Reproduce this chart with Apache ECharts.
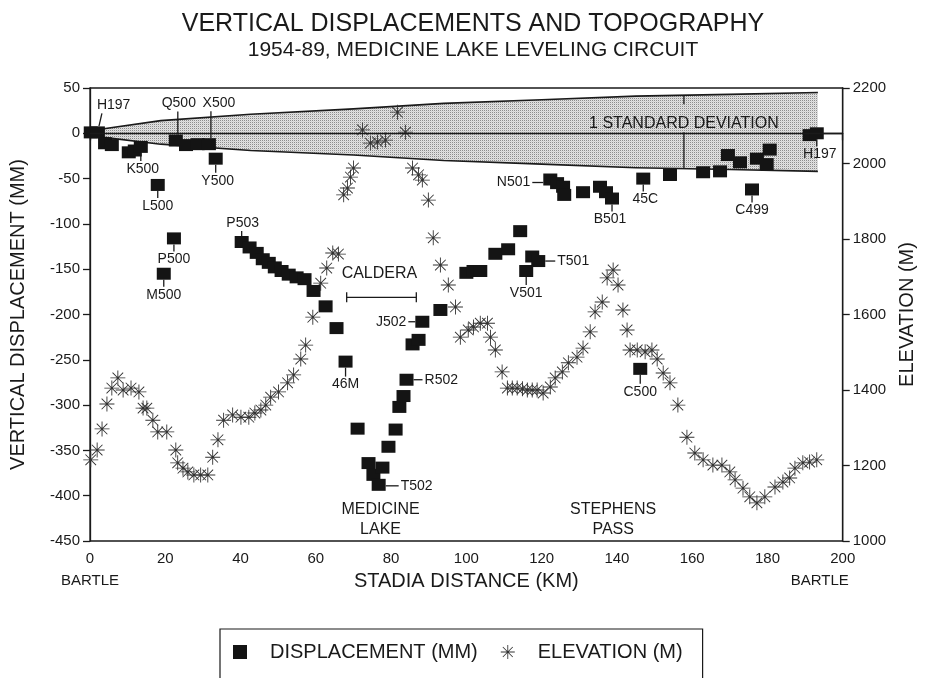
<!DOCTYPE html>
<html><head><meta charset="utf-8">
<script src="https://cdn.jsdelivr.net/npm/echarts@6/dist/echarts.min.js"></script>
<style>html,body{margin:0;padding:0;background:#fff}#c{width:925px;height:678px}</style>
</head><body><div id="c"></div>
<script>
// ---------------- DATA ----------------
const dispKm = [0.2,2.1,4.0,5.8,10.3,11.9,13.5,18.0,19.6,22.3,
  22.8,25.5,28.6,31.6,33.4,40.3,42.4,44.3,45.9,47.5,
  49.1,50.9,52.8,54.9,57.0,59.4,62.6,65.5,67.9,71.1,
  74.0,75.3,76.7,77.7,79.3,81.2,82.2,83.3,84.1,85.7,
  87.3,88.3,93.1,100.0,101.9,103.7,107.7,111.1,114.3,115.9,
  117.5,119.1,122.3,124.1,125.7,126.0,131.0,135.5,137.1,138.7,
  146.2,147.0,154.1,162.9,167.4,169.5,172.7,175.9,177.2,179.8,
  180.6,191.2,193.1];
const dispMm = [1,1,-11,-13,-21,-19,-15,-57,-155,-116,
  -8,-13,-12,-12,-28,-120,-126,-132,-139,-143,
  -148,-152,-156,-159,-161,-174,-191,-215,-252,-326,
  -364,-377,-388,-369,-346,-327,-302,-290,-272,-233,
  -228,-208,-195,-154,-152,-152,-133,-128,-108,-152,
  -136,-141,-51,-55,-59,-68,-65,-59,-65,-72,
  -260,-50,-46,-43,-42,-24,-32,-62,-28,-34,
  -18,-2,0];
const dispLabel = ['','H197','','','','','K500','L500','M500','P500',
  'Q500','','','X500','Y500','P503','','','','',
  '','','','','','','','','46M','',
  '','','T502','','','','','','R502','',
  '','J502','','','','','','','','V501',
  '','T501','N501','','','','','','','B501',
  'C500','45C','','','','','','C499','','',
  '','','H197'];

const elevKm = [0.2,1.9,3.2,4.5,5.8,7.4,8.8,10.9,13.0,14.1,
  15.1,16.7,18.0,20.4,22.8,23.3,24.7,26.0,27.6,29.4,
  31.3,32.6,34.0,35.5,37.9,40.1,42.2,43.8,45.4,46.7,
  48.0,50.1,52.5,54.1,56.0,57.3,59.2,61.3,62.9,64.5,
  66.0,67.4,68.4,69.2,70.0,72.4,74.5,76.4,78.5,81.7,
  83.8,85.7,87.3,88.3,89.9,91.2,93.1,95.2,97.1,98.4,
  100.5,101.9,103.7,105.6,106.4,107.7,109.5,110.9,112.2,113.5,
  114.9,116.2,117.5,118.8,120.4,122.3,123.6,125.5,127.1,129.4,
  131.0,132.9,134.2,136.1,137.4,139.0,140.3,141.6,142.7,143.5,
  145.4,147.5,149.3,150.7,152.3,154.1,156.2,158.6,160.7,162.9,
  165.5,167.9,170.0,171.4,173.5,175.3,177.2,179.3,182.0,184.1,
  185.9,187.3,189.4,191.2,193.1];
const elevM = [1215,1241,1297,1363,1405,1432,1400,1405,1395,1352,
  1352,1320,1289,1289,1241,1207,1193,1183,1175,1175,
  1175,1222,1268,1320,1334,1328,1328,1339,1347,1360,
  1381,1395,1419,1440,1482,1519,1593,1683,1723,1763,
  1760,1917,1935,1964,1988,2089,2054,2057,2062,2136,
  2083,1988,1970,1956,1903,1803,1731,1678,1620,1540,
  1559,1567,1577,1577,1540,1506,1448,1405,1405,1405,
  1403,1400,1400,1400,1392,1408,1432,1448,1472,1487,
  1511,1554,1607,1633,1697,1718,1678,1612,1559,1506,
  1506,1501,1506,1482,1445,1419,1360,1275,1233,1215,
  1201,1201,1183,1162,1140,1117,1101,1117,1143,1156,
  1167,1193,1207,1209,1215];

// one standard deviation envelope (mm)
const bandKm    = [0, 3.7, 18.8, 42.7, 70, 94, 120, 145, 170, 193.4];
const bandUpper = [0, 5, 14, 21, 27, 33, 37, 41, 43, 45];
const bandLower = [0, -4.5, -12, -19, -24, -30, -34, -38, -40, -42];

const xTickStep = 20, yLeftStep = 50, yRightStep = 200;

// annotation anchors (data coordinates)
const calderaSpan = [68.2, 86.7], calderaLevel = -181, calderaText = [76.9, -155];
const places = [
  {lines: ['MEDICINE', 'LAKE'], km: 77.2, mm: -426},
  {lines: ['STEPHENS', 'PASS'], km: 139.0, mm: -426}
];
const sdMarkKm = 157.8, sdTextMm = 11;

// ---------------- STYLE ----------------
const FONT = '"Liberation Sans", Arial, Helvetica, sans-serif';
const INK = '#1a1a1a';
const STAR = 'path://M47 0H53V100H47Z M0 47H100V53H0Z M16.7 12.5L87.5 83.3L83.3 87.5L12.5 16.7Z M83.3 12.5L87.5 16.7L16.7 87.5L12.5 83.3Z';

const LABEL_LAYOUT = {
  H197start: {dir: 'diag'},
  K500: {dir: 'down', len: 8, tx: 2},
  L500: {dir: 'down', len: 7},
  M500: {dir: 'down', len: 7},
  P500: {dir: 'down', len: 7},
  Q500: {dir: 'up', len: 23, lx: 2, tx: 3},
  X500: {dir: 'up', len: 27, lx: 2, tx: 10},
  Y500: {dir: 'down', len: 8, tx: 2},
  P503: {dir: 'up', len: 5, tx: 1},
  '46M': {dir: 'down', len: 9},
  T502: {dir: 'right', len: 13, ty: 1},
  R502: {dir: 'right', len: 9},
  J502: {dir: 'left', len: 7},
  V501: {dir: 'down', len: 8},
  T501: {dir: 'right', len: 10},
  N501: {dir: 'left', len: 11, ty: 3},
  B501: {dir: 'down', len: 7, tx: -2},
  '45C': {dir: 'down', len: 7, tx: 2},
  C499: {dir: 'down', len: 7},
  C500: {dir: 'down', len: 9},
  H197: {dir: 'down', len: 7, tx: 3}
};

// stipple pattern for the deviation band
const pc = document.createElement('canvas'); pc.width = 2; pc.height = 2;
const pg = pc.getContext('2d');
pg.fillStyle = '#e2e2e2'; pg.fillRect(0, 0, 2, 2);
pg.fillStyle = '#8c8c8c'; pg.fillRect(0, 0, 1, 1);
pg.fillStyle = '#d2d2d2'; pg.fillRect(1, 1, 1, 1);
const STIPPLE = {image: pc, repeat: 'repeat'};

function interp(xs, ys, x) {
  for (let i = 1; i < xs.length; i++) {
    if (x <= xs[i]) { const t = (x - xs[i-1]) / (xs[i] - xs[i-1]); return ys[i-1] + t * (ys[i] - ys[i-1]); }
  }
  return ys[ys.length - 1];
}

function bandRender(params, api) {
  if (params.dataIndex !== 0) return null;
  const up = bandKm.map((k, i) => api.coord([k, bandUpper[i]]));
  const lo = bandKm.map((k, i) => api.coord([k, bandLower[i]]));
  return {type: 'group', children: [
    {type: 'polygon', shape: {points: up.concat(lo.slice().reverse())}, style: {fill: STIPPLE}},
    {type: 'polyline', shape: {points: up}, style: {stroke: INK, lineWidth: 1.6, fill: null}},
    {type: 'polyline', shape: {points: lo}, style: {stroke: INK, lineWidth: 1.6, fill: null}}
  ]};
}

function annotRender(params, api) {
  if (params.dataIndex !== 0) return null;
  const ch = [];
  const line = (x1, y1, x2, y2) => ch.push({type: 'line', shape: {x1, y1, x2, y2}, style: {stroke: INK, lineWidth: 1.3}});
  const text = (x, y, t, size, align) => ch.push({type: 'text', x, y, style: {
    text: t, fill: INK, font: size + 'px ' + FONT,
    align: align || 'center', verticalAlign: 'middle',
    textAlign: align || 'center', textVerticalAlign: 'middle'}});
  const HW = 7, HH = 6, LS = 14, GAP = 8;
  dispLabel.forEach((name, i) => {
    if (!name) return;
    const key = (name === 'H197' && dispKm[i] < 10) ? 'H197start' : name;
    const L = LABEL_LAYOUT[key];
    const p = api.coord([dispKm[i], dispMm[i]]);
    const px = p[0], py = p[1];
    const lx = px + (L.lx || 0), tx = px + (L.tx || 0), ty = py + (L.ty || 0);
    if (L.dir === 'down') { line(lx, py + HH, lx, py + HH + L.len); text(tx, py + HH + L.len + GAP, name, LS); }
    else if (L.dir === 'up') { line(lx, py - HH, lx, py - HH - L.len); text(tx, py - HH - L.len - GAP, name, LS); }
    else if (L.dir === 'right') { line(px + HW, ty, px + HW + L.len, ty); text(px + HW + L.len + 2, ty, name, LS, 'left'); }
    else if (L.dir === 'left') { line(px - HW, ty, px - HW - L.len, ty); text(px - HW - L.len - 2, ty, name, LS, 'right'); }
    else if (L.dir === 'diag') { line(px + 1, py - HH, px + 4, py - HH - 13); text(px - 1, py - 27, name, LS, 'left'); }
  });
  // caldera bracket
  const a = api.coord([calderaSpan[0], calderaLevel]), b = api.coord([calderaSpan[1], calderaLevel]);
  line(a[0], a[1], b[0], b[1]); line(a[0], a[1] - 5, a[0], a[1] + 5); line(b[0], b[1] - 5, b[0], b[1] + 5);
  const ct = api.coord(calderaText); text(ct[0], ct[1], 'CALDERA', 16);
  // place names
  places.forEach(pl => { const p = api.coord([pl.km, pl.mm]); text(p[0], p[1] - 10, pl.lines[0], 16); text(p[0], p[1] + 10, pl.lines[1], 16); });
  // standard deviation marker
  const su = api.coord([sdMarkKm, interp(bandKm, bandUpper, sdMarkKm)]);
  const sl = api.coord([sdMarkKm, interp(bandKm, bandLower, sdMarkKm)]);
  const st = api.coord([sdMarkKm, sdTextMm]);
  line(su[0], su[1], su[0], st[1] - 19); line(sl[0], st[1] + 9, sl[0], sl[1]);
  text(st[0], st[1], '1 STANDARD DEVIATION', 16);
  // end-point names below the axis
  const b0 = api.coord([0, -450]), b1 = api.coord([200, -450]);
  text(b0[0], b0[1] + 40, 'BARTLE', 15); text(b1[0] - 23, b1[1] + 40, 'BARTLE', 15);
  return {type: 'group', children: ch};
}

const chart = echarts.init(document.getElementById('c'), null, {renderer: 'canvas'});
const axisCommon = {
  axisLine: {show: true, lineStyle: {color: INK, width: 1.3}},
  axisTick: {show: true, inside: false, length: 7, lineStyle: {color: INK, width: 1.3}},
  axisLabel: {color: INK, fontSize: 15, fontFamily: FONT},
  splitLine: {show: false},
  nameTextStyle: {color: INK, fontSize: 20, fontFamily: FONT}
};
chart.setOption({
  animation: false,
  backgroundColor: '#fff',
  title: {
    text: 'VERTICAL DISPLACEMENTS AND TOPOGRAPHY',
    subtext: '1954-89, MEDICINE LAKE LEVELING CIRCUIT',
    left: 468, top: 7, textAlign: 'center', itemGap: 3,
    textStyle: {fontSize: 25, fontWeight: 'normal', color: INK, fontFamily: FONT},
    subtextStyle: {fontSize: 21, color: INK, fontFamily: FONT}
  },
  legend: {
    left: 220, top: 629,
    data: [{name: 'DISPLACEMENT (MM)', icon: 'rect'}, {name: 'ELEVATION (M)', icon: STAR}],
    itemWidth: 14, itemHeight: 14, itemGap: 23,
    padding: [13, 20, 40, 13],
    borderColor: INK, borderWidth: 1.2,
    textStyle: {color: INK, fontSize: 20, fontFamily: FONT, padding: [0, 0, 0, 18]},
    selectedMode: false
  },
  grid: {left: 89, right: 82, top: 88, bottom: 137, show: true, borderColor: INK, borderWidth: 1.3, backgroundColor: 'transparent'},
  xAxis: Object.assign({}, axisCommon, {
    type: 'value', min: 0, max: 200, interval: xTickStep,
    name: 'STADIA DISTANCE (KM)', nameLocation: 'middle', nameGap: 30,
    axisLabel: Object.assign({}, axisCommon.axisLabel, {margin: 10})
  }),
  yAxis: [
    Object.assign({}, axisCommon, {
      type: 'value', min: -450, max: 50, interval: yLeftStep, position: 'left',
      name: 'VERTICAL DISPLACEMENT (MM)', nameLocation: 'middle', nameGap: 62, nameRotate: 90,
      axisLabel: Object.assign({}, axisCommon.axisLabel, {margin: 10})
    }),
    Object.assign({}, axisCommon, {
      type: 'value', min: 1000, max: 2200, interval: yRightStep, position: 'right',
      name: 'ELEVATION (M)', nameLocation: 'middle', nameGap: 52, nameRotate: 90,
      axisLabel: Object.assign({}, axisCommon.axisLabel, {margin: 10, formatter: v => String(v)})
    })
  ],
  series: [
    {type: 'custom', name: 'band', xAxisIndex: 0, yAxisIndex: 0, z: 1, silent: true,
     renderItem: bandRender, data: [[0, 0]]},
    {type: 'scatter', name: 'DISPLACEMENT (MM)', xAxisIndex: 0, yAxisIndex: 0, z: 4,
     symbol: 'rect', symbolSize: [14, 12], itemStyle: {color: '#141414', opacity: 1},
     data: dispKm.map((k, i) => [k, dispMm[i]]),
     markLine: {silent: true, symbol: 'none', label: {show: false},
       lineStyle: {color: INK, width: 1.3, type: 'solid'}, data: [{yAxis: 0}]}},
    {type: 'scatter', name: 'ELEVATION (M)', xAxisIndex: 0, yAxisIndex: 1, z: 3,
     symbol: STAR, symbolSize: 15, itemStyle: {color: '#333333', opacity: 1},
     data: elevKm.map((k, i) => [k, elevM[i]])},
    {type: 'custom', name: 'annotations', xAxisIndex: 0, yAxisIndex: 0, z: 5, silent: true,
     renderItem: annotRender, data: [[0, 0]]}
  ]
});
</script>
</body></html>
